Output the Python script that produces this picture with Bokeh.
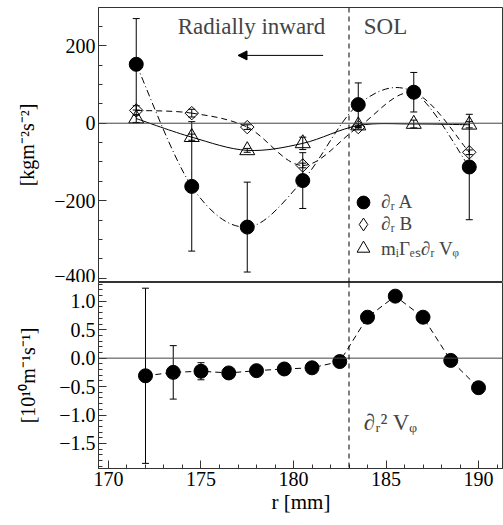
import math
from bokeh.plotting import figure
from bokeh.models import (Range1d, FixedTicker, Span, Label, Arrow, NormalHead, CustomJSTickFormatter,
                          Whisker, TeeHead, ColumnDataSource, Legend, LegendItem)
from bokeh.layouts import column
from bokeh.embed import file_html
from bokeh.resources import INLINE

FONT = "Liberation Serif"

# ---- upper panel data ----
r_up = [171.5, 174.5, 177.5, 180.5, 183.5, 186.5, 189.5]
dA = [152, -163, -268, -148, 48, 80, -113]
eA = [118, 167, 116, 72, 56, 51, 136]
dB = [33, 26, -10, -109, -10, 78, -75]
eB = [12, 10, 6, 6, 5, 5, 6]
tG = [12, -36, -70, -52, -6, -2, -4]
eG = [10, 8, 5, 16, 5, 10, 8]

# ---- lower panel data ----
r_lo = [172, 173.5, 175, 176.5, 178, 179.5, 181, 182.5, 184, 185.5, 187, 188.5, 190]
d2V = [-0.31, -0.25, -0.23, -0.26, -0.22, -0.19, -0.17, -0.06, 0.72, 1.09, 0.72, -0.04, -0.52]
e2V = [1.54, 0.47, 0.15, 0, 0, 0, 0, 0, 0, 0, 0, 0, 0]

up_ticks = [-400, -200, 0, 200]
lo_ticks = [-1.5, -1.0, -0.5, 0.0, 0.5, 1.0]
x_ticks = [170, 175, 180, 185, 190]
sol_r = 183


def catmull(xs, ys):
    n = len(xs)
    out = dict(x0=[], y0=[], x1=[], y1=[], cx0=[], cy0=[], cx1=[], cy1=[])
    for i in range(n - 1):
        p0 = (xs[max(i - 1, 0)], ys[max(i - 1, 0)])
        p1 = (xs[i], ys[i])
        p2 = (xs[i + 1], ys[i + 1])
        p3 = (xs[min(i + 2, n - 1)], ys[min(i + 2, n - 1)])
        out["x0"].append(p1[0]); out["y0"].append(p1[1])
        out["x1"].append(p2[0]); out["y1"].append(p2[1])
        out["cx0"].append(p1[0] + (p2[0] - p0[0]) / 6)
        out["cy0"].append(p1[1] + (p2[1] - p0[1]) / 6)
        out["cx1"].append(p2[0] - (p3[0] - p1[0]) / 6)
        out["cy1"].append(p2[1] - (p3[1] - p1[1]) / 6)
    return out


def style_axis(ax):
    ax.axis_line_color = "#333333"
    ax.major_tick_line_color = "#333333"
    ax.minor_tick_line_color = "#333333"
    ax.major_tick_in = 8
    ax.major_tick_out = 0
    ax.minor_tick_in = 4
    ax.minor_tick_out = 0
    ax.major_label_text_font = FONT
    ax.major_label_text_font_size = "20px"
    ax.major_label_text_color = "black"
    ax.axis_label_text_font = FONT
    ax.axis_label_text_font_size = "20px"
    ax.axis_label_text_font_style = "normal"
    ax.axis_label_text_color = "black"


xr = Range1d(169.46, 191.35)

# ================= upper =================
p1 = figure(width=503, height=282, x_range=xr, y_range=Range1d(-411, 298.6),
            output_backend="svg", toolbar_location=None, x_axis_location=None,
            min_border_left=98, min_border_right=0, min_border_top=7, min_border_bottom=0)
p1.grid.visible = False
p1.outline_line_color = "#333333"
style_axis(p1.yaxis[0])
p1.yaxis.ticker = FixedTicker(ticks=up_ticks, minor_ticks=list(range(-400, 300, 50)))
p1.yaxis.formatter = CustomJSTickFormatter(code="return tick.toFixed(0).replace('-', '\\u2212');")
p1.yaxis.axis_label = "[kgm\u207b\u00b2s\u207b\u00b2]"
p1.yaxis.major_label_standoff = 3
p1.yaxis.axis_label_standoff = 13

p1.add_layout(Span(location=0, dimension="width", line_color="#444444", line_width=1))
p1.add_layout(Span(location=sol_r, dimension="height", line_color="black", line_width=1, line_dash="5 4"))

for ys, es in ((dA, eA), (dB, eB), (tG, eG)):
    src = ColumnDataSource(dict(x=r_up, lo=[a - b for a, b in zip(ys, es)], hi=[a + b for a, b in zip(ys, es)]))
    p1.add_layout(Whisker(source=src, base="x", lower="lo", upper="hi", line_color="black", line_width=1,
                          upper_head=TeeHead(size=7, line_color="black"),
                          lower_head=TeeHead(size=7, line_color="black")))

p1.bezier(source=ColumnDataSource(catmull(r_up, dA)), x0="x0", y0="y0", x1="x1", y1="y1",
          cx0="cx0", cy0="cy0", cx1="cx1", cy1="cy1", line_color="black", line_width=1, line_dash="7 3 1 3")
p1.bezier(source=ColumnDataSource(catmull(r_up, dB)), x0="x0", y0="y0", x1="x1", y1="y1",
          cx0="cx0", cy0="cy0", cx1="cx1", cy1="cy1", line_color="black", line_width=1, line_dash="6 4")
p1.bezier(source=ColumnDataSource(catmull(r_up, tG)), x0="x0", y0="y0", x1="x1", y1="y1",
          cx0="cx0", cy0="cy0", cx1="cx1", cy1="cy1", line_color="black", line_width=1)

rB = p1.scatter(r_up, dB, marker="square", angle=math.pi / 4, size=9.5, fill_alpha=0,
                line_color="black", line_width=1)
rT = p1.scatter(r_up, tG, marker="triangle", size=15, fill_alpha=0, line_color="black", line_width=1)
rA = p1.scatter(r_up, dA, marker="circle", size=14, fill_color="black", line_color="black")
# hidden twin of the diamonds, used only as legend key (legend keys ignore marker angle)
rBkey = p1.scatter(r_up, dB, marker="diamond", size=14, fill_alpha=0, line_color="black", line_width=1)
rBkey.visible = False

leg_rows = [("\u2202\u1d63 A", rA, 64), ("\u2202\u1d63 B", rBkey, 42),
            ("m\u1d62\u0393\u2091\u209b\u2202\u1d63 V\u1d69", rT, 18)]
for lab, rend, ypos in leg_rows:
    p1.add_layout(Legend(items=[LegendItem(label=lab, renderers=[rend])],
                         location=(249, ypos), glyph_width=32, glyph_height=32, padding=0, margin=0,
                         label_standoff=2, label_text_font=FONT, label_text_font_size="19px",
                         background_fill_alpha=0, border_line_alpha=0))

p1.add_layout(Label(x=177.73, y=250, text="Radially inward", text_font=FONT, text_font_size="23px",
                    text_align="center", text_baseline="middle"))
p1.add_layout(Label(x=183.8, y=250, text="SOL", text_font=FONT, text_font_size="23px",
                    text_align="left", text_baseline="middle"))
p1.add_layout(Arrow(x_start=181.6, y_start=175, x_end=177.0, y_end=175, line_color="black", line_width=1,
                    end=NormalHead(size=9, fill_color="black", line_color="black")))

# ================= lower =================
p2 = figure(width=503, height=243, x_range=xr, y_range=Range1d(-1.94, 1.33),
            output_backend="svg", toolbar_location=None,
            min_border_left=98, min_border_right=0, min_border_top=0, min_border_bottom=57)
p2.grid.visible = False
p2.outline_line_color = "#333333"
style_axis(p2.xaxis[0])
style_axis(p2.yaxis[0])
p2.yaxis.ticker = FixedTicker(ticks=lo_ticks, minor_ticks=[round(-1.9 + 0.1 * i, 1) for i in range(33)])
p2.yaxis.formatter = CustomJSTickFormatter(code="return tick.toFixed(1).replace('-', '\\u2212');")
p2.yaxis.axis_label = "[10\u00b9\u2070m\u207b\u00b9s\u207b\u00b9]"
p2.yaxis.major_label_standoff = 3
p2.yaxis.axis_label_standoff = 17
p2.xaxis.ticker = FixedTicker(ticks=x_ticks, minor_ticks=list(range(170, 192)))
p2.xaxis.axis_label = "r [mm]"
p2.xaxis.axis_label_text_font_size = "21px"
p2.xaxis.major_label_standoff = 3
p2.xaxis.axis_label_standoff = 1

p2.add_layout(Span(location=0, dimension="width", line_color="#444444", line_width=1))
p2.add_layout(Span(location=sol_r, dimension="height", line_color="black", line_width=1, line_dash="5 4"))

src2 = ColumnDataSource(dict(x=r_lo, lo=[a - b for a, b in zip(d2V, e2V)], hi=[a + b for a, b in zip(d2V, e2V)]))
p2.add_layout(Whisker(source=src2, base="x", lower="lo", upper="hi", line_color="black", line_width=1,
                      upper_head=TeeHead(size=7, line_color="black"),
                      lower_head=TeeHead(size=7, line_color="black")))
p2.line(r_lo, d2V, line_color="black", line_width=1, line_dash="6 4")
p2.scatter(r_lo, d2V, marker="circle", size=14, fill_color="black", line_color="black")

p2.add_layout(Label(x=183.8, y=-1.13, text="\u2202\u1d63\u00b2 V\u1d69", text_font=FONT, text_font_size="23px",
                    text_align="left", text_baseline="middle"))

layout = column(p1, p2, spacing=0)
open("out.html", "w").write(file_html(layout, INLINE))
